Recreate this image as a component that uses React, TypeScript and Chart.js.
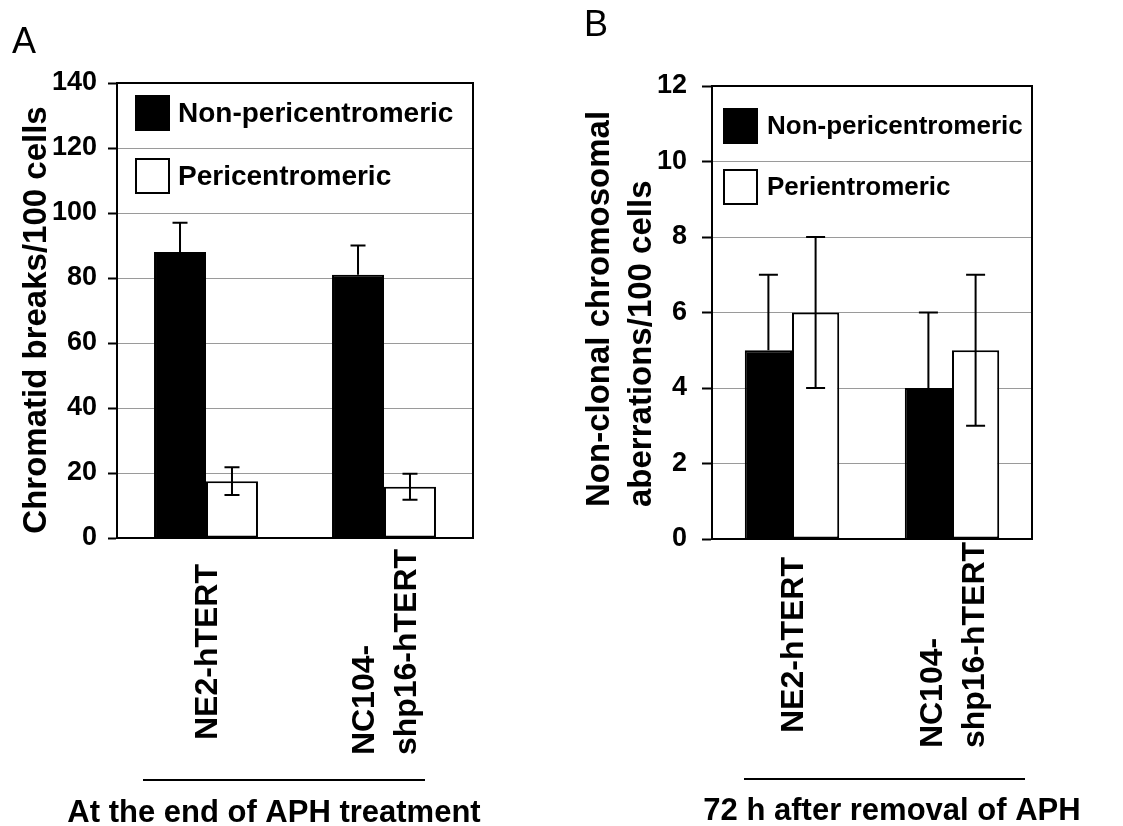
import React, { useEffect, useRef } from 'react';
import { Chart, registerables } from 'chart.js';

Chart.register(...registerables);

// ---------- data ----------
const categories = ['NE2-hTERT', 'NC104-shp16-hTERT'];
const categoryLines = [['NE2-hTERT'], ['NC104-', 'shp16-hTERT']];

const legendA = ['Non-pericentromeric', 'Pericentromeric'];
const legendB = ['Non-pericentromeric', 'Perientromeric'];

// Panel A: chromatid breaks / 100 cells
const aNonPeri = [88, 81];
const aNonPeriErr = [9, 9];
const aPeri = [17.5, 15.8];
const aPeriErr = [4.3, 4];

// Panel B: non-clonal chromosomal aberrations / 100 cells
const bNonPeri = [5, 4];
const bNonPeriErr = [2, 2];
const bPeri = [6, 5];
const bPeriErr = [2, 2];

const aTitle = ['Chromatid breaks/100 cells'];
const bTitle = ['Non-clonal chromosomal', 'aberrations/100 cells'];
const aGroupTitle = 'At the end of APH treatment';
const bGroupTitle = '72 h after removal of APH';

const FONT = "'Liberation Sans', Arial, Helvetica, sans-serif";

// ---------- plugins ----------
const framePlugin = {
  id: 'frame',
  afterDraw(chart: any) {
    const { ctx, chartArea: a } = chart;
    ctx.save();
    ctx.strokeStyle = '#000';
    ctx.lineWidth = 2;
    ctx.strokeRect(a.left, a.top, a.right - a.left, a.bottom - a.top);
    ctx.restore();
  },
};

const errorBarPlugin = {
  id: 'errorBars',
  afterDatasetsDraw(chart: any, _args: any, opts: any) {
    const { ctx } = chart;
    const yScale = chart.scales.y;
    const cap = opts.cap || 14;
    chart.data.datasets.forEach((ds: any, di: number) => {
      const meta = chart.getDatasetMeta(di);
      meta.data.forEach((bar: any, i: number) => {
        const v = ds.data[i];
        const e = ds.errors[i];
        const yTop = yScale.getPixelForValue(v + e);
        const yBot = ds.twoSided ? yScale.getPixelForValue(v - e) : bar.y;
        ctx.save();
        ctx.strokeStyle = '#000';
        ctx.lineWidth = 2;
        ctx.beginPath();
        ctx.moveTo(bar.x, yTop);
        ctx.lineTo(bar.x, yBot);
        ctx.moveTo(bar.x - cap / 2, yTop);
        ctx.lineTo(bar.x + cap / 2, yTop);
        if (ds.twoSided) {
          ctx.moveTo(bar.x - cap / 2, yBot);
          ctx.lineTo(bar.x + cap / 2, yBot);
        }
        ctx.stroke();
        ctx.restore();
      });
    });
  },
};

const boxLegendPlugin = {
  id: 'boxLegend',
  afterDraw(chart: any, _args: any, opts: any) {
    const { ctx, chartArea: a } = chart;
    ctx.save();
    ctx.font = `bold ${opts.fontSize}px ${FONT}`;
    ctx.textBaseline = 'middle';
    ctx.textAlign = 'left';
    chart.data.datasets.forEach((ds: any, i: number) => {
      const x = a.left + opts.dx;
      const y = a.top + opts.dy + i * opts.step;
      ctx.fillStyle = ds.backgroundColor;
      ctx.fillRect(x, y, opts.boxW, opts.boxH);
      ctx.strokeStyle = '#000';
      ctx.lineWidth = 2;
      ctx.strokeRect(x, y, opts.boxW, opts.boxH);
      ctx.fillStyle = '#000';
      ctx.fillText(ds.label, x + opts.boxW + opts.textGap, y + opts.boxH / 2 + 1);
    });
    ctx.restore();
  },
};

const yTitlePlugin = {
  id: 'yTitle',
  afterDraw(chart: any, _args: any, opts: any) {
    const { ctx } = chart;
    ctx.save();
    ctx.font = `bold ${opts.fontSize}px ${FONT}`;
    ctx.fillStyle = '#000';
    ctx.textBaseline = 'alphabetic';
    ctx.textAlign = opts.align;
    opts.lines.forEach((line: string, j: number) => {
      ctx.save();
      ctx.translate(opts.baselines[j], opts.anchorY);
      ctx.rotate(-Math.PI / 2);
      ctx.fillText(line, 0, 0);
      ctx.restore();
    });
    ctx.restore();
  },
};

const xLabelPlugin = {
  id: 'xLabels',
  afterDraw(chart: any, _args: any, opts: any) {
    const { ctx } = chart;
    const xScale = chart.scales.x;
    ctx.save();
    ctx.font = `bold ${opts.fontSize}px ${FONT}`;
    ctx.fillStyle = '#000';
    ctx.textBaseline = 'alphabetic';
    ctx.textAlign = 'left';
    const capH = opts.fontSize * 0.716;
    opts.lines.forEach((lines: string[], i: number) => {
      const cx = xScale.getPixelForValue(i);
      const longest = Math.max(...lines.map((l) => ctx.measureText(l).width));
      const startY = opts.centerY + longest / 2;
      const n = lines.length;
      lines.forEach((line, j) => {
        const bx = cx + (j - (n - 1) / 2) * opts.lineGap + capH / 2;
        ctx.save();
        ctx.translate(bx, startY);
        ctx.rotate(-Math.PI / 2);
        ctx.fillText(line, 0, 0);
        ctx.restore();
      });
    });
    ctx.restore();
  },
};

const groupTitlePlugin = {
  id: 'groupTitle',
  afterDraw(chart: any, _args: any, opts: any) {
    const { ctx } = chart;
    ctx.save();
    ctx.strokeStyle = '#000';
    ctx.lineWidth = 2;
    ctx.beginPath();
    ctx.moveTo(opts.x1, opts.lineY);
    ctx.lineTo(opts.x2, opts.lineY);
    ctx.stroke();
    ctx.font = `bold ${opts.fontSize}px ${FONT}`;
    ctx.fillStyle = '#000';
    ctx.textAlign = 'center';
    ctx.textBaseline = 'alphabetic';
    ctx.fillText(opts.text, opts.cx, opts.baseY);
    ctx.restore();
  },
};

// ---------- config ----------
function makeConfig(p: any) {
  return {
    type: 'bar',
    data: {
      labels: categories,
      datasets: [
        {
          label: p.legend[0],
          data: p.s1,
          errors: p.e1,
          twoSided: false,
          backgroundColor: '#000000',
          borderColor: '#000000',
          borderWidth: 2,
          categoryPercentage: p.catPct,
          barPercentage: 1,
        },
        {
          label: p.legend[1],
          data: p.s2,
          errors: p.e2,
          twoSided: true,
          backgroundColor: '#ffffff',
          borderColor: '#000000',
          borderWidth: 2,
          borderSkipped: false,
          categoryPercentage: p.catPct,
          barPercentage: 1,
        },
      ],
    },
    options: {
      responsive: false,
      animation: false,
      layout: { padding: { left: 0, top: p.top, right: p.right, bottom: 0 } },
      scales: {
        x: {
          afterFit: (s: any) => {
            s.height = p.xHeight;
          },
          grid: { display: false, drawTicks: false },
          border: { display: true, color: '#000', width: 2 },
          ticks: { display: false },
        },
        y: {
          min: 0,
          max: p.yMax,
          afterFit: (s: any) => {
            s.width = p.yWidth;
          },
          ticks: {
            stepSize: p.step,
            color: '#000',
            padding: p.tickPad,
            font: { family: FONT, size: 27, weight: 'bold' },
          },
          grid: {
            color: '#9a9a9a',
            lineWidth: 1,
            tickColor: '#000',
            tickWidth: 2,
            tickLength: p.tickLen,
          },
          border: { display: true, color: '#000', width: 2 },
        },
      },
      plugins: {
        legend: { display: false },
        tooltip: { enabled: false },
        errorBars: { cap: p.cap },
        boxLegend: p.boxLegend,
        yTitle: p.yTitle,
        xLabels: { lines: categoryLines, fontSize: 32, lineGap: 42, centerY: p.labelCenterY },
        groupTitle: p.group,
      },
    },
    plugins: [framePlugin, errorBarPlugin, boxLegendPlugin, yTitlePlugin, xLabelPlugin, groupTitlePlugin],
  };
}

const panelA = {
  legend: legendA,
  s1: aNonPeri,
  e1: aNonPeriErr,
  s2: aPeri,
  e2: aPeriErr,
  catPct: 0.584,
  top: 83,
  right: 87,
  xHeight: 288,
  yWidth: 117,
  yMax: 140,
  step: 20,
  tickPad: 11,
  tickLen: 9,
  cap: 15,
  labelCenterY: 652,
  boxLegend: { dx: 19, dy: 13, step: 63, boxW: 33, boxH: 34, textGap: 9, fontSize: 28 },
  yTitle: { lines: aTitle, baselines: [46], anchorY: 320, align: 'center', fontSize: 33 },
  group: { x1: 143, x2: 425, lineY: 780, text: aGroupTitle, cx: 274, baseY: 822, fontSize: 31 },
};

const panelB = {
  legend: legendB,
  s1: bNonPeri,
  e1: bNonPeriErr,
  s2: bPeri,
  e2: bPeriErr,
  catPct: 0.59,
  top: 86,
  right: 91,
  xHeight: 287,
  yWidth: 152,
  yMax: 12,
  step: 2,
  tickPad: 15,
  tickLen: 10,
  cap: 19,
  labelCenterY: 645,
  boxLegend: { dx: 12, dy: 23, step: 61, boxW: 33, boxH: 34, textGap: 10, fontSize: 26 },
  yTitle: { lines: bTitle, baselines: [49, 91], anchorY: 507, align: 'left', fontSize: 33 },
  group: { x1: 184, x2: 465, lineY: 779, text: bGroupTitle, cx: 332, baseY: 820, fontSize: 31 },
};

function ChartPanel({ cfg, width, height, left }: any) {
  const ref = useRef<HTMLCanvasElement | null>(null);
  useEffect(() => {
    if (!ref.current) return;
    const chart = new Chart(ref.current, makeConfig(cfg) as any);
    return () => chart.destroy();
  }, [cfg]);
  return (
    <canvas
      ref={ref}
      width={width}
      height={height}
      style={{ position: 'absolute', left, top: 0, width, height }}
    />
  );
}

export default function App() {
  const letter: any = {
    position: 'absolute',
    fontFamily: FONT,
    fontSize: 36,
    lineHeight: '36px',
    color: '#000',
    margin: 0,
  };
  return (
    <div style={{ position: 'absolute', left: 0, top: 0, width: 1123, height: 826, background: '#fff', overflow: 'hidden' }}>
      <ChartPanel cfg={panelA} width={560} height={826} left={0} />
      <ChartPanel cfg={panelB} width={563} height={826} left={560} />
      <div style={{ ...letter, left: 12, top: 23 }}>A</div>
      <div style={{ ...letter, left: 584, top: 6 }}>B</div>
    </div>
  );
}
